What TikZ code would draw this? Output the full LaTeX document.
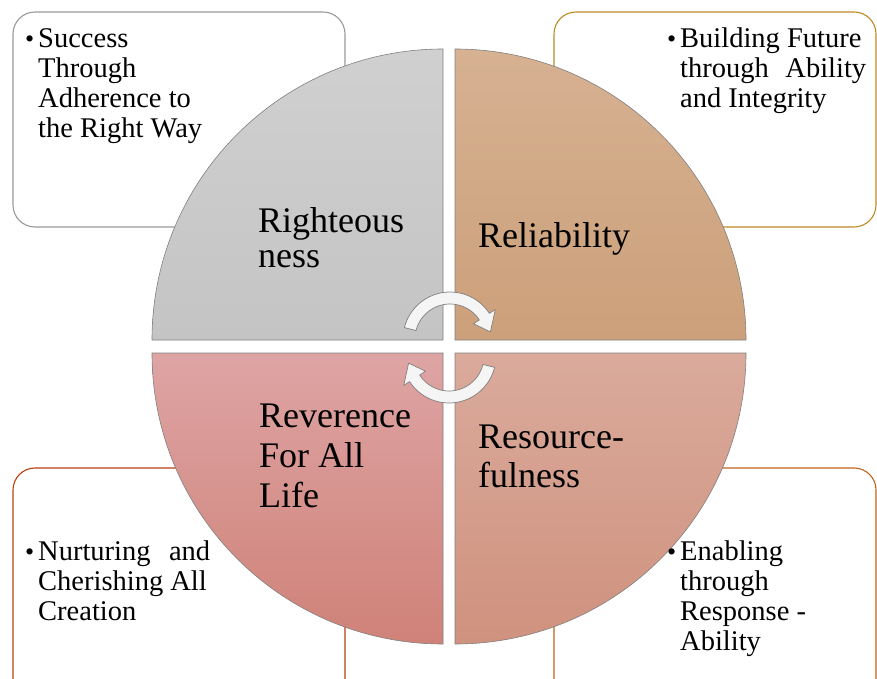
\documentclass[tikz,border=0pt]{standalone}
\usepackage{fontspec}
\setmainfont{Liberation Serif}
\definecolor{boxgray}{HTML}{9A9A9A}
\definecolor{boxgold}{HTML}{BF8A22}
\definecolor{boxred}{HTML}{B8400E}
\definecolor{boxorange}{HTML}{C0631A}
\definecolor{tlTop}{HTML}{D0D0D0}
\definecolor{tlBot}{HTML}{C4C4C4}
\definecolor{trTop}{HTML}{D6B192}
\definecolor{trBot}{HTML}{CCA07A}
\definecolor{blTop}{HTML}{DEA4A4}
\definecolor{blBot}{HTML}{CF8278}
\definecolor{brTop}{HTML}{DAAA9C}
\definecolor{brBot}{HTML}{CF927E}
\begin{document}
\begin{tikzpicture}[x=1pt,y=1pt,
  box/.style={line width=1.1pt, fill=white, rounded corners=22pt},
  quad/.style={draw=black!50, line width=0.6pt},
  lbl/.style={anchor=base west, inner sep=0pt, font=\fontsize{36}{38}\selectfont},
  txt/.style={anchor=base west, inner sep=0pt, font=\fontsize{28.5}{30}\selectfont},
  bul/.style={anchor=base west, inner sep=0pt, font=\fontsize{26}{28}\selectfont},
  cyc/.style={fill=white!96!black, draw=black!50, line width=0.7pt, line join=round}]
\useasboundingbox (0,0) rectangle (877,678);

% text boxes
\draw[box, draw=boxgray] (13,666) rectangle (345,451);
\draw[box, draw=boxgold] (554,666) rectangle (876,451);
\draw[box, draw=boxred] (13,210) rectangle (345,-25);
\draw[box, draw=boxorange] (554,210) rectangle (876,-25);

% quadrants
\path[quad, top color=tlTop, bottom color=tlBot]
  (443,338) -- (152,338) arc[start angle=180, end angle=90, radius=291pt] -- cycle;
\path[quad, top color=trTop, bottom color=trBot]
  (455,338) -- (455,629) arc[start angle=90, end angle=0, radius=291pt] -- cycle;
\path[quad, top color=blTop, bottom color=blBot]
  (443,325) -- (443,34) arc[start angle=270, end angle=180, radius=291pt] -- cycle;
\path[quad, top color=brTop, bottom color=brBot]
  (455,325) -- (746,325) arc[start angle=0, end angle=-90, radius=291pt] -- cycle;

% cycle arrows
\coordinate (U) at (450,339);
\coordinate (L) at (449,322);
\begin{scope}[shift={(U)}]
\draw[cyc] (166:47pt) arc[start angle=166, end angle=33, radius=47pt]
  -- (33:54pt) -- (10:41pt) -- (33:28pt) -- (33:35pt)
  arc[start angle=33, end angle=166, radius=35pt] -- cycle;
\end{scope}
\begin{scope}[shift={(L)}]
\draw[cyc] (-14:47pt) arc[start angle=-14, end angle=-147, radius=47pt]
  -- (-147:54pt) -- (-170:41pt) -- (-147:28pt) -- (-147:35pt)
  arc[start angle=-147, end angle=-14, radius=35pt] -- cycle;
\end{scope}

% quadrant labels
\node[lbl] (r1) at (258,445) {Righteous};
\node[lbl] (r2) at (258,410) {ness};
\node[lbl] (rel) at (478,430) {Reliability};
\node[lbl] (v1) at (259,251) {Reverence};
\node[lbl] (v2) at (259,211) {For All};
\node[lbl] (v3) at (259,171) {Life};
\node[lbl] (s1) at (478,230) {Resource-};
\node[lbl] (s2) at (478,191) {fulness};

% box texts
\node[bul] (b1) at (25,630) {•};
\node[txt] (a1) at (38,630) {Success};
\node[txt] (a2) at (38,600) {Through};
\node[txt] (a3) at (38,570) {Adherence to};
\node[txt] (a4) at (38,540) {the Right Way};

\node[bul] (b2) at (667,630) {•};
\node[txt] (c1) at (680,630) {Building Future};
\node[txt] (c2) at (680,600) {\makebox[186pt][s]{through Ability}};
\node[txt] (c3) at (680,570) {and Integrity};

\node[bul] (b3) at (25,118) {•};
\node[txt] (d1) at (38,118) {\makebox[172pt][s]{Nurturing and}};
\node[txt] (d2) at (38,88) {Cherishing All};
\node[txt] (d3) at (38,58) {Creation};

\node[bul] (b4) at (667,118) {•};
\node[txt] (e1) at (680,118) {Enabling};
\node[txt] (e2) at (680,88) {through};
\node[txt] (e3) at (680,58) {Response -};
\node[txt] (e4) at (680,28) {Ability};
\end{tikzpicture}
\end{document}
